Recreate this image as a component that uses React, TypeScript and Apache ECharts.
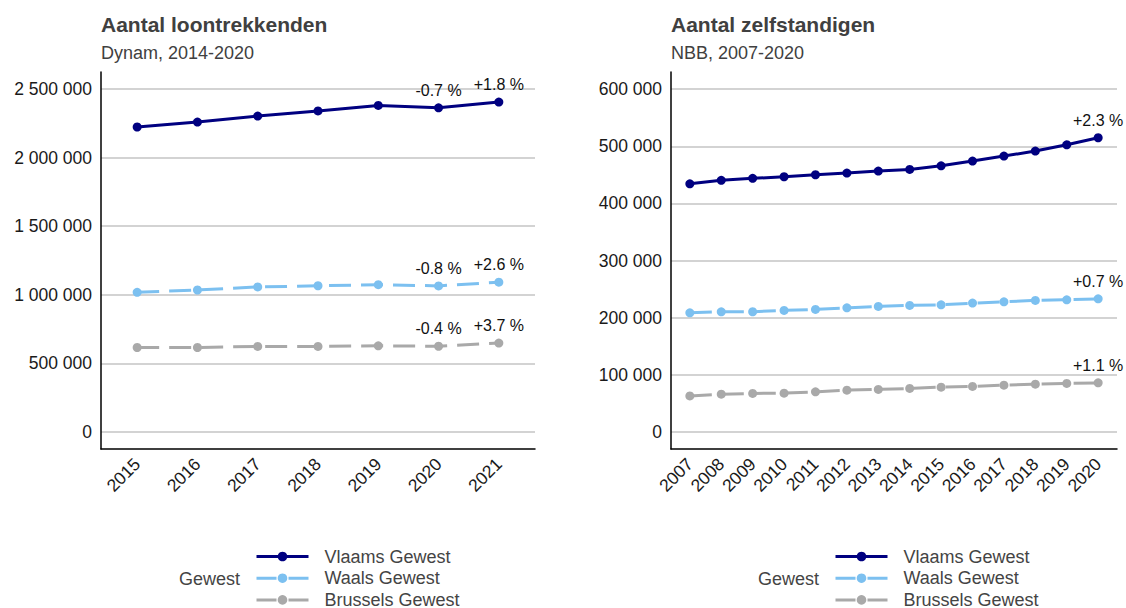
import React, { useEffect, useRef } from "react";
import * as echarts from "echarts";

const yearsLoon = [2015, 2016, 2017, 2018, 2019, 2020, 2021];
const vlaamsLoon = [2223000, 2259000, 2303000, 2340000, 2380000, 2363000, 2405000];
const waalsLoon = [1018000, 1035000, 1057000, 1066000, 1074000, 1065000, 1092000];
const brusselsLoon = [616000, 616000, 624000, 624000, 628000, 625000, 648000];
const vlaamsLoonLabels = ["", "", "", "", "", "-0.7 %", "+1.8 %"];
const waalsLoonLabels = ["", "", "", "", "", "-0.8 %", "+2.6 %"];
const brusselsLoonLabels = ["", "", "", "", "", "-0.4 %", "+3.7 %"];

const yearsZelf = [2007, 2008, 2009, 2010, 2011, 2012, 2013, 2014, 2015, 2016, 2017, 2018, 2019, 2020];
const vlaamsZelf = [434300, 440300, 443800, 446600, 450100, 453100, 456600, 459500, 465800, 474100, 482800, 491600, 502600, 514900];
const waalsZelf = [208400, 210200, 210300, 212600, 214400, 217200, 219600, 221400, 222400, 225400, 227700, 230100, 231200, 232900];
const brusselsZelf = [63000, 66000, 67300, 67800, 70100, 73000, 74300, 76000, 78300, 79500, 81800, 83500, 84800, 85800];
const vlaamsZelfLabels = ["", "", "", "", "", "", "", "", "", "", "", "", "", "+2.3 %"];
const waalsZelfLabels = ["", "", "", "", "", "", "", "", "", "", "", "", "", "+0.7 %"];
const brusselsZelfLabels = ["", "", "", "", "", "", "", "", "", "", "", "", "", "+1.1 %"];

const yTicksLoon = [0, 500000, 1000000, 1500000, 2000000, 2500000];
const yTicksZelf = [0, 100000, 200000, 300000, 400000, 500000, 600000];

const seriesNames = ["Vlaams Gewest", "Waals Gewest", "Brussels Gewest"];
const colors = ["#000080", "#7cc0f0", "#a9a9a9"];

const FONT = "'Liberation Sans', Arial, Helvetica, sans-serif";

function fmt(v: number) {
  return String(Math.round(v)).replace(/\B(?=(\d{3})+(?!\d))/g, " ");
}

function buildData(years: number[], vals: number[], labels: string[]) {
  return years.map((y, i) => {
    const item: any = { value: [y, vals[i]] };
    if (labels[i]) {
      item.label = {
        show: true,
        formatter: labels[i],
        position: "top",
        distance: 5,
        fontSize: 16,
        color: "#111",
        fontFamily: FONT,
      };
    }
    return item;
  });
}

function makeSeries(idx: number, name: string, years: number[], vals: number[], labels: string[], s: number) {
  return {
    type: "line",
    name,
    xAxisIndex: idx,
    yAxisIndex: idx,
    data: buildData(years, vals, labels),
    symbol: "circle",
    symbolSize: 9,
    color: colors[s],
    itemStyle: { color: colors[s] },
    lineStyle: { width: 3, color: colors[s], type: s === 0 ? "solid" : [22, 10] },
    label: { show: false },
    emphasis: { disabled: true },
  };
}

export default function App() {
  const ref = useRef<HTMLDivElement>(null);
  useEffect(() => {
    if (!ref.current) return;
    const chart = echarts.init(ref.current, undefined, { renderer: "svg" });
    const xAxisBase = (min: number, max: number, years: number[], gridIndex: number) => ({
      type: "value",
      gridIndex,
      min,
      max,
      axisLine: { show: true, onZero: false, lineStyle: { color: "#000", width: 1.5 } },
      axisTick: { show: false, customValues: years },
      splitLine: { show: false },
      axisLabel: {
        customValues: years,
        rotate: 45,
        margin: 12,
        fontSize: 17.5,
        color: "#1a1a1a",
        fontFamily: FONT,
        formatter: (v: number) => String(v),
      },
    });
    const yAxisBase = (min: number, max: number, ticks: number[], gridIndex: number) => ({
      type: "value",
      gridIndex,
      min,
      max,
      axisLine: { show: true, onZero: false, lineStyle: { color: "#000", width: 1.5 } },
      axisTick: { show: false, customValues: ticks },
      splitLine: { show: true, lineStyle: { color: "#c4c4c4", width: 1.5 } },
      axisLabel: {
        customValues: ticks,
        margin: 9,
        fontSize: 17.5,
        color: "#1a1a1a",
        fontFamily: FONT,
        formatter: (v: number) => fmt(v),
      },
    });
    const legendData = seriesNames.map((n, i) => ({
      name: n,
      lineStyle: { width: 3, color: colors[i], type: i === 0 ? "solid" : [20, 12] },
    }));
    const legendBase = (left: number) => ({
      orient: "vertical",
      left,
      top: 547.5,
      height: 90,
      padding: 0,
      itemWidth: 52,
      itemHeight: 12,
      itemGap: 3.7,
      selectedMode: false,
      data: legendData,
      textStyle: { fontSize: 18, lineHeight: 18, color: "#444", fontFamily: FONT, padding: [0, 0, 0, 11] },
    });
    const option: any = {
      animation: false,
      backgroundColor: "#fff",
      title: [
        { text: "Aantal loontrekkenden", left: 101, top: 14, padding: 0, textStyle: { fontSize: 21, fontWeight: "bold", color: "#404040", fontFamily: FONT } },
        { text: "Dynam, 2014-2020", left: 101, top: 44, padding: 0, textStyle: { fontSize: 18, fontWeight: "normal", color: "#404040", fontFamily: FONT } },
        { text: "Aantal zelfstandigen", left: 671, top: 14, padding: 0, textStyle: { fontSize: 21, fontWeight: "bold", color: "#404040", fontFamily: FONT } },
        { text: "NBB, 2007-2020", left: 671, top: 44, padding: 0, textStyle: { fontSize: 18, fontWeight: "normal", color: "#404040", fontFamily: FONT } },
      ],
      grid: [
        { left: 101, top: 72, width: 434, height: 377, containLabel: false },
        { left: 671, top: 72, width: 446, height: 377, containLabel: false },
      ],
      xAxis: [xAxisBase(2014.4, 2021.6, yearsLoon, 0), xAxisBase(2006.4, 2020.6, yearsZelf, 1)],
      yAxis: [yAxisBase(-124000, 2624000, yTicksLoon, 0), yAxisBase(-30000, 630000, yTicksZelf, 1)],
      legend: [legendBase(255), legendBase(834)],
      graphic: [
        { type: "text", left: 179, top: 570, style: { text: "Gewest", fontSize: 18, fill: "#444", fontFamily: FONT } },
        { type: "text", left: 758, top: 570, style: { text: "Gewest", fontSize: 18, fill: "#444", fontFamily: FONT } },
      ],
      series: [
        makeSeries(0, seriesNames[0], yearsLoon, vlaamsLoon, vlaamsLoonLabels, 0),
        makeSeries(0, seriesNames[1], yearsLoon, waalsLoon, waalsLoonLabels, 1),
        makeSeries(0, seriesNames[2], yearsLoon, brusselsLoon, brusselsLoonLabels, 2),
        makeSeries(1, seriesNames[0], yearsZelf, vlaamsZelf, vlaamsZelfLabels, 0),
        makeSeries(1, seriesNames[1], yearsZelf, waalsZelf, waalsZelfLabels, 1),
        makeSeries(1, seriesNames[2], yearsZelf, brusselsZelf, brusselsZelfLabels, 2),
      ],
    };
    chart.setOption(option);
    return () => chart.dispose();
  }, []);
  return (
    <div
      ref={ref}
      style={{ position: "fixed", left: 0, top: 0, width: 1126, height: 608, background: "#fff" }}
    />
  );
}
